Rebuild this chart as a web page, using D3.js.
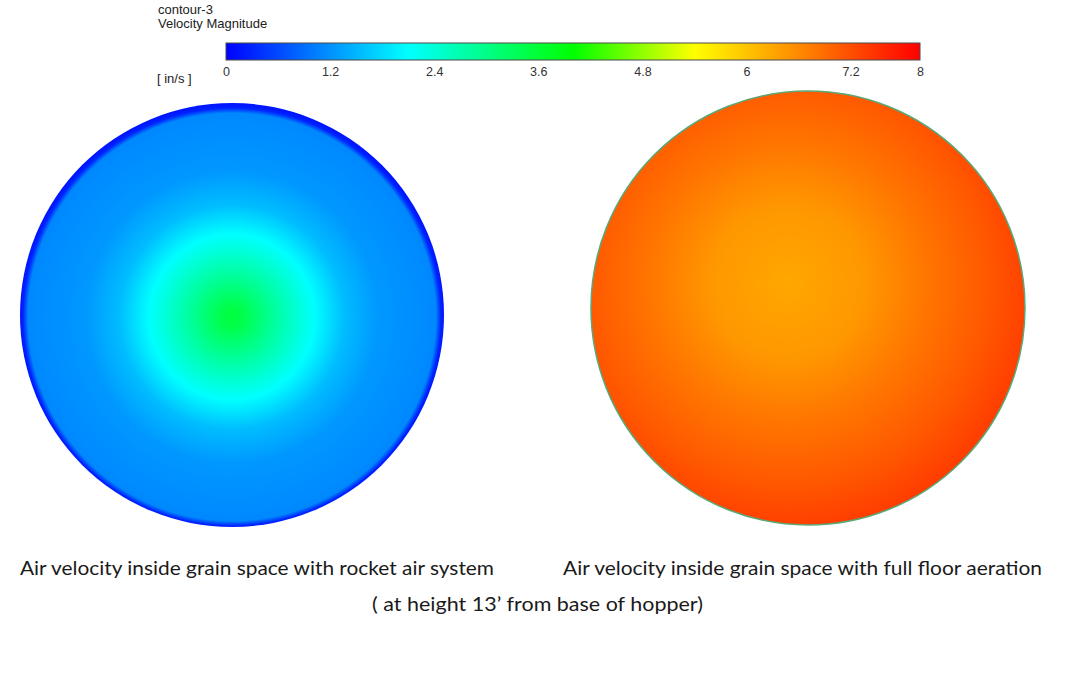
<!DOCTYPE html>
<html>
<head>
<meta charset="utf-8">
<script src="https://cdn.jsdelivr.net/npm/d3@7"></script>
<style>
  body { margin: 0; background: #fff; }
  svg { display: block; }
</style>
</head>
<body>
<div id="chart"></div>
<script>
// colour map of the contour legend (velocity in in/s)
const legendStops = [0, 2.1, 4.0, 5.4, 8];
const legendColors = ["#0000ff", "#00ffff", "#00ff00", "#ffff00", "#ff0000"];
const tickValues = [0, 1.2, 2.4, 3.6, 4.8, 6, 7.2, 8];

// radial velocity profiles (r/R -> in/s)
const rocketRadius = [0, 0.05, 0.22, 0.39, 0.53, 0.69, 0.85, 0.962, 0.985, 1];
const rocketVelocity = [3.55, 3.45, 2.75, 2.1, 1.56, 1.25, 1.18, 1.12, 0.3, 0.18];
const floorRadius = [0, 0.3, 0.55, 0.8, 1];
const floorVelocity = [6.3, 6.45, 6.8, 7.1, 7.4];

const captions = [
  "Air velocity inside grain space with rocket air system",
  "Air velocity inside grain space with full floor aeration",
  "( at height 13\u2019 from base of hopper)"
];

function draw() {
  const width = 1080, height = 675;

  const svg = d3.select("#chart")
    .append("svg")
    .attr("width", width)
    .attr("height", height)
    .attr("viewBox", [0, 0, width, height]);

  const defs = svg.append("defs");

  // the colour map
  const color = d3.scaleLinear()
    .domain(legendStops)
    .range(legendColors)
    .interpolate(d3.interpolateRgb);

  // legend scale
  const xScale = d3.scaleLinear()
    .domain([0, 8])
    .range([226, 920]);

  // legend gradient
  const legendGrad = defs.append("linearGradient")
    .attr("id", "legend-grad")
    .attr("x1", "0%").attr("x2", "100%");
  legendGrad.selectAll("stop")
    .data(legendStops)
    .join("stop")
    .attr("offset", d => (d / 8 * 100) + "%")
    .attr("stop-color", d => color(d));

  svg.append("rect")
    .attr("x", xScale(0))
    .attr("y", 43)
    .attr("width", xScale(8) - xScale(0))
    .attr("height", 17)
    .attr("fill", "url(#legend-grad)")
    .attr("stroke", "#4a4a4a")
    .attr("stroke-width", 1);

  // legend axis
  svg.append("g")
    .attr("transform", "translate(0,60)")
    .call(d3.axisBottom(xScale)
      .tickValues(tickValues)
      .tickSize(0)
      .tickPadding(7)
      .tickFormat(d => String(d))
    )
    .call(g => g.select(".domain").remove())
    .call(g => g.selectAll("text")
      .attr("font-family", "'Liberation Sans', Arial, sans-serif")
      .attr("font-size", 12.5)
      .attr("fill", "#333"));

  // legend titles
  const labelFont = "'Liberation Sans', Arial, sans-serif";
  svg.append("text").attr("x", 158).attr("y", 14).text("contour-3")
    .attr("font-family", labelFont).attr("font-size", 13).attr("fill", "#222");
  svg.append("text").attr("x", 158).attr("y", 28).text("Velocity Magnitude")
    .attr("font-family", labelFont).attr("font-size", 13).attr("fill", "#222");
  svg.append("text").attr("x", 157).attr("y", 83).text("[ in/s ]")
    .attr("font-family", labelFont).attr("font-size", 13).attr("fill", "#222");

  // section with rocket air system
  const rocket = {cx: 232, cy: 315, r: 212};
  const rocketGrad = defs.append("radialGradient")
    .attr("id", "rocket-grad")
    .attr("gradientUnits", "userSpaceOnUse")
    .attr("cx", rocket.cx).attr("cy", rocket.cy + 2)
    .attr("r", rocket.r);
  rocketGrad.selectAll("stop")
    .data(rocketRadius)
    .join("stop")
    .attr("offset", d => d)
    .attr("stop-color", (d, i) => color(rocketVelocity[i]));

  svg.append("circle")
    .attr("cx", rocket.cx)
    .attr("cy", rocket.cy)
    .attr("r", rocket.r)
    .attr("fill", "url(#rocket-grad)");

  // section with full floor aeration
  const floor = {cx: 808, cy: 308, r: 217};
  const floorGrad = defs.append("radialGradient")
    .attr("id", "floor-grad")
    .attr("gradientUnits", "userSpaceOnUse")
    .attr("cx", floor.cx - 20).attr("cy", floor.cy - 25)
    .attr("r", 250);
  floorGrad.selectAll("stop")
    .data(floorRadius)
    .join("stop")
    .attr("offset", d => d)
    .attr("stop-color", (d, i) => color(floorVelocity[i]));

  svg.append("circle")
    .attr("cx", floor.cx)
    .attr("cy", floor.cy)
    .attr("r", floor.r)
    .attr("fill", "url(#floor-grad)")
    .attr("stroke", "#5aa878")
    .attr("stroke-width", 1.5);

  // captions
  const capFont = "Lato, 'Open Sans', sans-serif";
  const capPos = [
    {x: 20, y: 575, w: 474},
    {x: 563, y: 575, w: 479},
    {x: 372, y: 611, w: 331}
  ];
  svg.selectAll("text.caption")
    .data(captions)
    .join("text")
    .attr("class", "caption")
    .attr("x", (d, i) => capPos[i].x)
    .attr("y", (d, i) => capPos[i].y)
    .attr("textLength", (d, i) => capPos[i].w)
    .attr("lengthAdjust", "spacingAndGlyphs")
    .attr("font-family", capFont)
    .attr("font-size", 20)
    .attr("fill", "#1a1a1a")
    .text(d => d);
}

draw();
</script>
</body>
</html>
